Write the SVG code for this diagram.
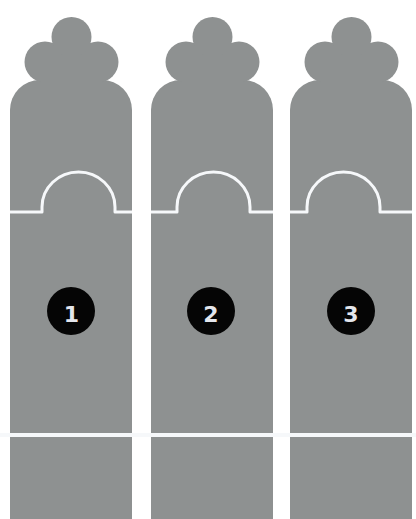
<svg xmlns="http://www.w3.org/2000/svg" width="416" height="519" viewBox="0 0 416 519">
  <style>
    .body { fill: #8e9191; }
    .cut { fill: none; stroke: #f6f8fa; stroke-width: 3; stroke-linejoin: round; }
    .badge { fill: #050505; }
    .num { fill: #e4e6ec; font-family: "DejaVu Sans", "Liberation Sans", sans-serif; font-size: 22px; font-weight: bold; text-anchor: middle; }
  </style>
  <defs>
    <g id="column-shape">
      <path class="body" d="M0 519 V110 A30 30 0 0 1 30 80 H92 A30 30 0 0 1 122 110 V519 Z"/>
      <circle class="body" cx="35" cy="62" r="20.5"/>
      <circle class="body" cx="88" cy="62" r="20.5"/>
      <circle class="body" cx="61.5" cy="37" r="20"/>
      <rect class="body" x="35" y="55" width="53" height="30"/>
    </g>
  </defs>
  <rect width="416" height="519" fill="#ffffff"/>

  <g id="column1">
    <use href="#column-shape" x="10" y="0"/>
    <path class="cut" d="M10 212 H42 V207 A36.5 35 0 0 1 115 207 V212 H132"/>
    <circle class="badge" cx="71" cy="311" r="24"/>
    <text class="num" x="71.5" y="321.5">1</text>
  </g>

  <g id="column2">
    <use href="#column-shape" x="151" y="0"/>
    <path class="cut" d="M151 212 H177 V207 A36.5 35 0 0 1 250 207 V212 H273"/>
    <circle class="badge" cx="211" cy="311" r="24"/>
    <text class="num" x="211" y="321.5">2</text>
  </g>

  <g id="column3">
    <use href="#column-shape" x="290" y="0"/>
    <path class="cut" d="M290 212 H307 V207 A36.5 35 0 0 1 380 207 V212 H412"/>
    <circle class="badge" cx="351" cy="311" r="24"/>
    <text class="num" x="351" y="321.5">3</text>
  </g>

  <rect x="0" y="433" width="416" height="4" fill="#f6f8fa"/>
</svg>
